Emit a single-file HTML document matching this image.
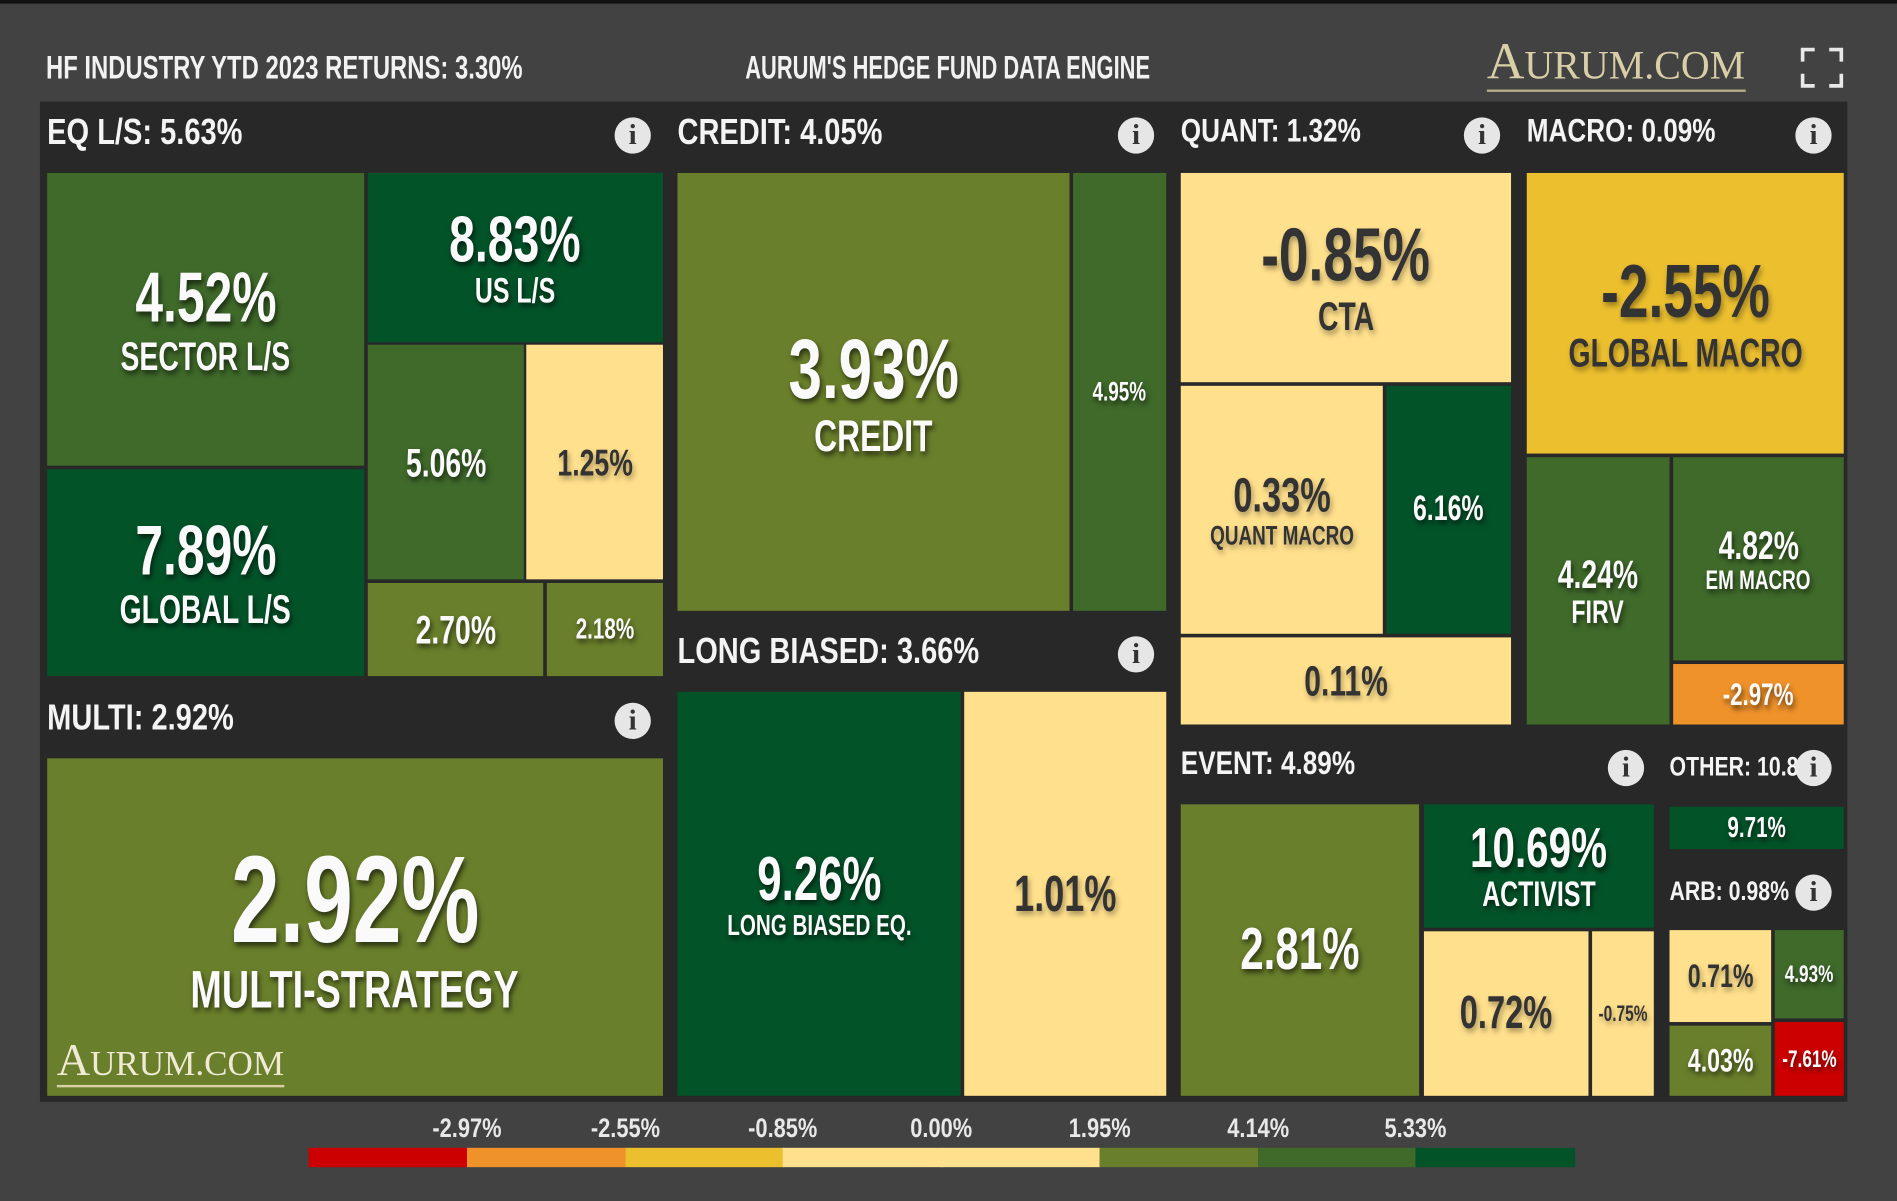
<!DOCTYPE html>
<html><head><meta charset="utf-8">
<style>
html,body{margin:0;padding:0;background:#424242;overflow:hidden}
body{width:1897px;height:1201px;position:relative}
#stage{position:absolute;left:0;top:0;width:1568px;height:993px;transform:scale(1.2098,1.2095);transform-origin:0 0;font-family:"Liberation Sans",sans-serif;color:#f2f2f2;font-weight:bold}
.abs{position:absolute}
.sq{display:inline-block;transform:scaleX(.71);transform-origin:0 50%}
.sqc{display:inline-block;transform:scaleX(.71);transform-origin:50% 50%}
.topline{left:0;top:0;width:1568px;height:3px;background:#111}
.title{font-size:27px;top:41px;white-space:nowrap}
.panel{left:33px;top:84px;width:1494px;height:827px;background:#282828}
.hdr{font-size:30px;white-space:nowrap;color:#f4f4f4}
.hdr .sq{transform:scaleX(.8)}
.info{width:30px;height:30px;border-radius:50%;background:#e6e6e6;color:#333;font-family:"Liberation Serif",serif;font-weight:bold;font-size:24px;text-align:center;line-height:31px}
.tile{display:flex;flex-direction:column;align-items:center;justify-content:center;text-align:center;overflow:hidden}
.tile .v{line-height:1;white-space:nowrap}
.tile .n{line-height:1;white-space:nowrap;margin-top:2px}
.light{color:#fafafa;text-shadow:2px 3px 5px rgba(0,0,0,.6)}
.dark{color:#333;text-shadow:2px 3px 5px rgba(0,0,0,.35)}
.legl{font-size:22px;top:920px;color:#e8e8e8;transform:translateX(-50%);white-space:nowrap}
.legl .sqc{transform:scaleX(.82)}
.logo{font-family:"Liberation Serif",serif;color:#d9cfa6;white-space:nowrap;font-weight:normal}
</style></head>
<body>
<div id="stage">
  <div class="abs topline"></div>
  <div class="abs title" style="left:38px"><span class="sq" style="transform:scaleX(.73)">HF INDUSTRY YTD 2023 RETURNS: 3.30%</span></div>
  <div class="abs title" style="left:616px"><span class="sq" style="transform:scaleX(.67)">AURUM'S HEDGE FUND DATA ENGINE</span></div>
  <div class="abs logo" style="left:1229px;top:33px;font-size:43px;border-bottom:2px solid #b5ab85;line-height:38px">A<span style="font-size:33px">URUM</span><span style="font-size:33px">.COM</span></div>
  <svg class="abs" style="left:1488px;top:39px" width="36" height="34">
    <path d="M2 12V2h10M24 2h10v10M34 22v10H24M12 32H2V22" fill="none" stroke="#e8e8e8" stroke-width="3"/>
  </svg>
  <div class="abs panel"></div>
  <div id="tiles"></div>
  <div id="legend"></div>
  <div class="abs logo" style="left:47px;top:860px;font-size:38px;border-bottom:2px solid #d9cfa6;line-height:34px;color:#f0ead5">A<span style="font-size:29px">URUM.COM</span></div>
</div>
<script>
// category headers
const groupNames = ["EQ L/S: 5.63%","CREDIT: 4.05%","QUANT: 1.32%","MACRO: 0.09%","MULTI: 2.92%","LONG BIASED: 3.66%","EVENT: 4.89%","OTHER: 10.84%","ARB: 0.98%"];
const groupPos = [[39,112,523],[560,112,939],[976,112,1225],[1262,112,1499],[39,596,523],[560,541,939],[976,635,1344],[1380,635,1499],[1380,738,1499]];
// tile values and names
const tileValues = [4.52,8.83,7.89,5.06,1.25,2.70,2.18,3.93,4.95,9.26,1.01,2.92,-0.85,0.33,6.16,0.11,-2.55,4.24,4.82,-2.97,2.81,10.69,0.72,-0.75,9.71,0.71,4.93,4.03,-7.61];
const tileNames = ["SECTOR L/S","US L/S","GLOBAL L/S","","","","","CREDIT","","LONG BIASED EQ.","","MULTI-STRATEGY","CTA","QUANT MACRO","","","GLOBAL MACRO","FIRV","EM MACRO","","","ACTIVIST","","","","","","",""];
const tileRects = [[39,143,262,242],[304,143,244,140],[39,388,262,171],[304,285,129,194],[435,285,113,194],[304,482,145,77],[452,482,96,77],[560,143,324,362],[887,143,77,362],[560,572,234,334],[797,572,167,334],[39,627,509,279],[976,143,273,173],[976,319,167,205],[1146,319,103,205],[976,527,273,72],[1262,143,262,232],[1262,378,118,221],[1383,378,141,168],[1383,549,141,50],[976,665,197,241],[1177,665,190,102],[1177,770,136,136],[1316,770,51,136],[1380,667,144,35],[1380,769,84,76],[1467,769,57,73],[1380,848,84,58],[1467,845,57,61]];
const tileFont = [[58,33],[54,29],[58,33],[33,0],[31,0],[33,0],[24,0],[70,37],[22,0],[51,24],[42,0],[102,44],[62,33],[40,22],[29,0],[35,0],[62,33],[33,27],[33,22],[26,0],[49,0],[47,29],[38,0],[18,0],[24,0],[27,0],[20,0],[27,0],[20,0]];
// legend thresholds
const legendTicks = ["-2.97%","-2.55%","-0.85%","0.00%","1.95%","4.14%","5.33%"];
const palette = ["#cc0000","#f0922a","#ecbf2f","#ffe08c","#ffe08c","#6a7f2b","#3f6a2a","#035329"];
function colorFor2(v){
  if(v<-5) return palette[0];
  if(v<=-2.9) return palette[1];
  if(v<=-2) return palette[2];
  if(v<1.95) return palette[3];
  if(v<4.14) return palette[5];
  if(v<5.33) return palette[6];
  return palette[7];
}
const stage=document.getElementById('tiles');
groupNames.forEach((g,i)=>{
  const p=groupPos[i];
  const h=document.createElement('div');
  h.className='abs hdr';
  h.style.left=p[0]+'px';h.style.top=(p[1]-19)+'px';
  if(i>=2&&i!=4&&i!=5) h.style.fontSize='27px';
  if(i>=7){h.style.fontSize='22px';h.style.top=(p[1]-14)+'px';}
  h.innerHTML='<span class="sq">'+g+'</span>';
  
  
  stage.appendChild(h);
  const ic=document.createElement('div');
  ic.className='abs info';
  ic.style.left=(p[2]-15)+'px';ic.style.top=(p[1]-15)+'px';
  ic.textContent='i';
  
  
  stage.appendChild(ic);
});
tileValues.forEach((v,i)=>{
  const r=tileRects[i];
  const t=document.createElement('div');
  const c=colorFor2(v);
  const isDark=(c===palette[3]||c===palette[2]);
  t.className='abs tile '+(isDark?'dark':'light');
  t.style.left=r[0]+'px';t.style.top=r[1]+'px';t.style.width=r[2]+'px';t.style.height=r[3]+'px';
  t.style.background=c;
  const f=tileFont[i];
  let html='<div class="v" style="font-size:'+f[0]+'px"><span class="sqc">'+v.toFixed(2)+'%</span></div>';
  if(tileNames[i]) html+='<div class="n" style="font-size:'+f[1]+'px"><span class="sqc">'+tileNames[i]+'</span></div>';
  t.innerHTML=html;
  
  
  stage.appendChild(t);
});
const lg=document.getElementById('legend');
const x0=255, segW=130.75;
palette.forEach((c,i)=>{
  const s=document.createElement('div');
  s.className='abs';
  s.style.left=(x0+i*segW)+'px';s.style.top='949px';s.style.width=(segW+0.5)+'px';s.style.height='16px';s.style.background=c;
  
  
  lg.appendChild(s);
});
legendTicks.forEach((t,i)=>{
  const l=document.createElement('div');
  l.className='abs legl';
  l.style.left=(x0+(i+1)*segW)+'px';
  l.innerHTML='<span class="sqc">'+t+'</span>';
  
  
  lg.appendChild(l);
});
</script>
</body></html>
